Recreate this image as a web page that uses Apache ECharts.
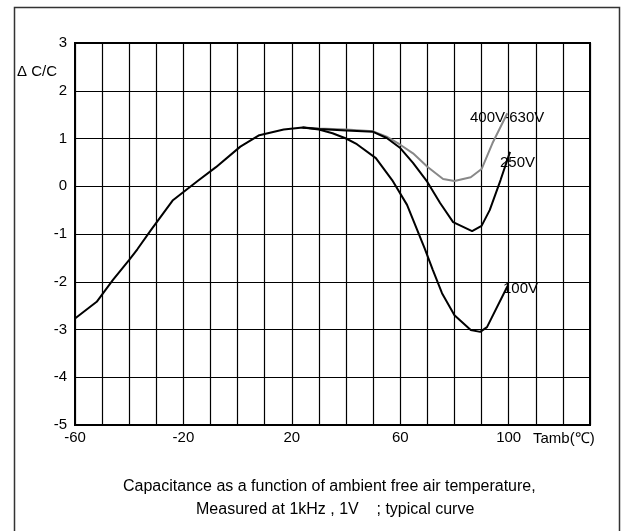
<!DOCTYPE html>
<html>
<head>
<meta charset="utf-8">
<script src="https://cdn.jsdelivr.net/npm/echarts@6/dist/echarts.min.js"></script>
<style>
  html, body { margin: 0; padding: 0; background: #fff; }
  #main { width: 622px; height: 531px; }
</style>
</head>
<body>
<div id="main"></div>
<script type="text/javascript">
	// data
	var xTicks = [-60, -20, 20, 60, 100];
	var temp100 = [-60, -52, -46, -40, -37, -32, -24, -15, -8, 1, 8, 17, 24, 30, 35, 40, 44, 51, 57, 62.5, 69, 72, 75.4, 80, 86, 89.5, 92, 99.5];
	var cap100  = [-2.77, -2.42, -1.96, -1.54, -1.32, -0.92, -0.3, 0.1, 0.4, 0.83, 1.07, 1.19, 1.23, 1.19, 1.11, 1.0, 0.88, 0.59, 0.13, -0.39, -1.3, -1.75, -2.24, -2.7, -3.01, -3.05, -2.95, -2.1];
	var temp250 = [24, 30, 40, 50, 55, 60, 64.7, 70, 74.7, 79.5, 86.5, 90, 93, 97, 100.5];
	var cap250  = [1.23, 1.2, 1.17, 1.14, 1.01, 0.8, 0.49, 0.09, -0.35, -0.75, -0.94, -0.83, -0.5, 0.13, 0.72];
	var temp400 = [24, 30, 40, 50, 55, 60, 64.7, 70, 75.8, 80, 86, 90, 94, 99.5];
	var cap400  = [1.23, 1.21, 1.19, 1.15, 1.04, 0.87, 0.69, 0.41, 0.15, 0.11, 0.19, 0.36, 0.9, 1.53];

	function pairs(xs, ys) {
		var out = [];
		for (var i = 0; i < xs.length; i++) out.push([xs[i], ys[i]]);
		return out;
	}

	var myChart = echarts.init(document.getElementById('main'));
	var font = 'Liberation Sans, Arial, sans-serif';
	var option = {
		animation: false,
		grid: {
			left: 75,
			top: 43,
			right: 32,
			bottom: 106,
			show: true,
			borderColor: '#000',
			borderWidth: 2
		},
		xAxis: {
			type: 'value',
			min: -60,
			max: 130,
			interval: 10,
			axisLine: { show: false },
			axisTick: { show: false },
			splitLine: { lineStyle: { color: '#000', width: 1.2 } },
			axisLabel: {
				color: '#000',
				fontSize: 15,
				fontFamily: font,
				margin: 5,
				formatter: function (v) { return xTicks.indexOf(v) >= 0 ? String(v) : ''; }
			}
		},
		yAxis: {
			type: 'value',
			min: -5,
			max: 3,
			interval: 1,
			axisLine: { show: false },
			axisTick: { show: false },
			splitLine: { lineStyle: { color: '#000', width: 1.2 } },
			axisLabel: { color: '#000', fontSize: 15, fontFamily: font, margin: 8 }
		},
		graphic: [
			{ type: 'rect', left: 12, top: 5, shape: { width: 605, height: 530 },
			  style: { fill: 'none', stroke: '#333', lineWidth: 1.5 }, silent: true },
			{ type: 'text', left: 17, top: 64, style: { text: 'Δ C/C', fill: '#000', font: '15px ' + font } },
			{ type: 'text', left: 533, top: 431, style: { text: 'Tamb(℃)', fill: '#000', font: '15px ' + font } },
			{ type: 'text', left: 470, top: 110, style: { text: '400V-630V', fill: '#000', font: '15px ' + font } },
			{ type: 'text', left: 500, top: 155, style: { text: '250V', fill: '#000', font: '15px ' + font } },
			{ type: 'text', left: 503, top: 281, style: { text: '100V', fill: '#000', font: '15px ' + font } },
			{ type: 'text', left: 123, top: 479,
			  style: { text: 'Capacitance as a function of ambient free air temperature,', fill: '#000', font: '16px ' + font } },
			{ type: 'text', left: 196, top: 502,
			  style: { text: 'Measured at 1kHz , 1V    ; typical curve', fill: '#000', font: '16px ' + font } }
		],
		series: [
			{
				name: '400V-630V',
				type: 'line',
				data: pairs(temp400, cap400),
				symbol: 'none',
				z: 2,
				lineStyle: { color: '#888', width: 2 }
			},
			{
				name: '250V',
				type: 'line',
				data: pairs(temp250, cap250),
				symbol: 'none',
				z: 3,
				lineStyle: { color: '#000', width: 2 }
			},
			{
				name: '100V',
				type: 'line',
				data: pairs(temp100, cap100),
				symbol: 'none',
				z: 3,
				lineStyle: { color: '#000', width: 2 }
			}
		]
	};
	myChart.setOption(option);
</script>
</body>
</html>
